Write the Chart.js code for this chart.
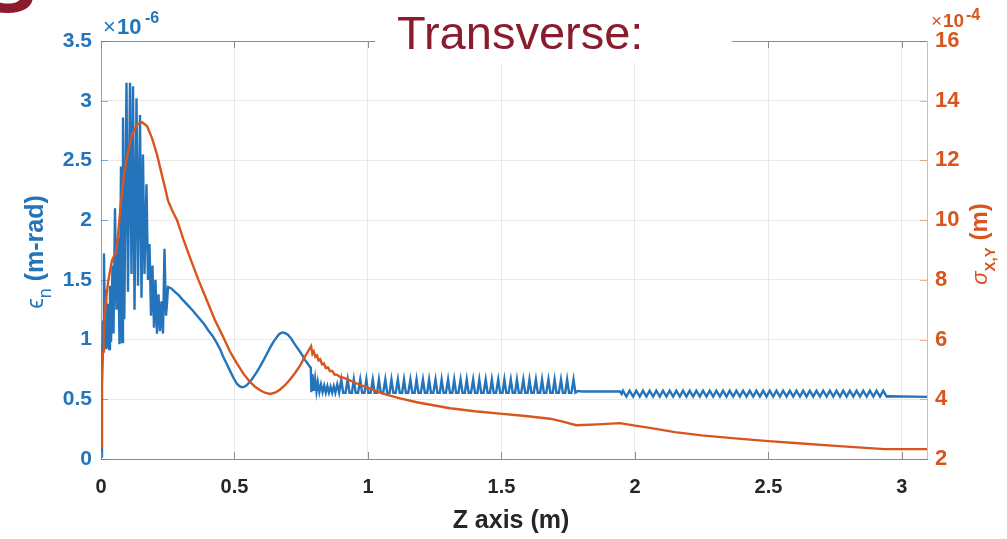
<!DOCTYPE html>
<html>
<head>
<meta charset="utf-8">
<script src="https://cdn.jsdelivr.net/npm/chart.js@4.4.1/dist/chart.umd.min.js"></script>
<style>
  html, body { margin: 0; padding: 0; background: #fff; overflow: hidden; }
  #wrap { width: 1007px; height: 539px; position: relative; }
</style>
</head>
<body>
<div id="wrap"><canvas id="c" width="1007" height="539"></canvas></div>
<script>
// Normalised emittance (units of 1e-6 m-rad) along the beamline, Z in metres
const emitEntrance = [
  [0.000,0.02],[0.0037,0.75],[0.0075,1.15],[0.0112,1.72],[0.015,0.93],[0.0187,1.42],[0.0225,0.94],
  [0.0262,1.30],[0.030,0.92],[0.0337,1.45],[0.0375,0.98],[0.0431,1.62],[0.0468,1.05],[0.0524,2.10],
  [0.058,1.25],[0.0637,1.85],[0.0693,0.96],[0.0749,2.45],[0.0787,0.98],[0.0824,2.86],[0.0873,1.17],
  [0.0955,3.15],[0.1011,1.40],[0.1086,3.15],[0.1142,1.55],[0.1199,3.12],[0.1255,1.25],[0.133,3.02],
  [0.1386,1.45],[0.1461,2.88],[0.1517,1.35],[0.1573,2.55],[0.1629,1.55],[0.1704,2.30],[0.176,1.50],
  [0.1816,1.80],[0.1873,1.20],[0.1929,1.62],[0.1985,1.10],[0.2041,1.50],[0.2097,1.05],[0.2154,1.38],
  [0.221,1.07],[0.2266,1.32],[0.2322,1.05],[0.2378,1.76],[0.2434,1.20],[0.2472,1.30],[0.251,1.44]
];
const emitHump = [
  [0.262,1.43],[0.277,1.40],[0.292,1.37],[0.307,1.33],[0.324,1.29],[0.341,1.25],[0.356,1.21],
  [0.371,1.17],[0.386,1.13],[0.401,1.08],[0.418,1.03],[0.434,0.97],[0.446,0.92],[0.457,0.86],
  [0.470,0.80],[0.483,0.74],[0.496,0.68],[0.509,0.63],[0.519,0.61],[0.528,0.60],[0.538,0.605],
  [0.547,0.62],[0.556,0.645],[0.566,0.67],[0.575,0.70],[0.584,0.73],[0.596,0.775],[0.607,0.82],
  [0.620,0.875],[0.633,0.93],[0.644,0.975],[0.655,1.01],[0.667,1.045],[0.678,1.06],[0.689,1.055],
  [0.700,1.04],[0.712,1.01],[0.723,0.97],[0.734,0.935],[0.745,0.90],[0.755,0.865],[0.764,0.83],
  [0.774,0.80],[0.783,0.77],[0.786,0.76]
];
// short decaying oscillation after the kick at Z ~ 0.79 m
const emitSettle = [
  [0.788,0.56],[0.792,0.71],[0.797,0.57],[0.802,0.67],[0.807,0.565],[0.812,0.645],[0.818,0.56],
  [0.824,0.625],[0.830,0.56],[0.836,0.615],[0.842,0.555],[0.848,0.61],[0.854,0.555],[0.860,0.605],
  [0.866,0.555],[0.872,0.61],[0.878,0.555],[0.885,0.625],[0.892,0.555]
];
// periodic cusps through the focusing lattice (peak, trough start, trough end)
const emitTeeth = [
  [0.900,0.665],[0.907,0.555],[0.916,0.555], [0.924,0.665],[0.931,0.555],[0.940,0.555],
  [0.947,0.665],[0.954,0.555],[0.963,0.555], [0.971,0.665],[0.978,0.555],[0.987,0.555],
  [0.994,0.665],[1.001,0.555],[1.010,0.555], [1.018,0.665],[1.025,0.555],[1.034,0.555],
  [1.041,0.665],[1.048,0.555],[1.057,0.555], [1.065,0.665],[1.072,0.555],[1.081,0.555],
  [1.088,0.665],[1.095,0.555],[1.104,0.555], [1.112,0.665],[1.119,0.555],[1.128,0.555],
  [1.135,0.665],[1.142,0.555],[1.151,0.555], [1.159,0.665],[1.166,0.555],[1.175,0.555],
  [1.182,0.665],[1.189,0.555],[1.198,0.555], [1.206,0.665],[1.213,0.555],[1.222,0.555],
  [1.229,0.665],[1.236,0.555],[1.245,0.555], [1.253,0.665],[1.260,0.555],[1.269,0.555],
  [1.276,0.665],[1.283,0.555],[1.292,0.555], [1.300,0.665],[1.307,0.555],[1.316,0.555],
  [1.323,0.665],[1.330,0.555],[1.339,0.555], [1.347,0.665],[1.354,0.555],[1.363,0.555],
  [1.370,0.665],[1.377,0.555],[1.386,0.555], [1.394,0.665],[1.401,0.555],[1.410,0.555],
  [1.417,0.665],[1.424,0.555],[1.433,0.555], [1.441,0.665],[1.448,0.555],[1.457,0.555],
  [1.464,0.665],[1.471,0.555],[1.480,0.555], [1.488,0.665],[1.495,0.555],[1.504,0.555],
  [1.511,0.665],[1.518,0.555],[1.527,0.555], [1.535,0.665],[1.542,0.555],[1.551,0.555],
  [1.558,0.665],[1.565,0.555],[1.574,0.555], [1.582,0.665],[1.589,0.555],[1.598,0.555],
  [1.605,0.665],[1.612,0.555],[1.621,0.555], [1.629,0.665],[1.636,0.555],[1.645,0.555],
  [1.652,0.665],[1.659,0.555],[1.668,0.555], [1.676,0.665],[1.683,0.555],[1.692,0.555],
  [1.699,0.665],[1.706,0.555],[1.715,0.555], [1.723,0.665],[1.730,0.555],[1.739,0.555],
  [1.746,0.665],[1.753,0.555],[1.762,0.555], [1.770,0.665],[1.777,0.555],[1.782,0.56]
];
const emitPlateau = [[1.786,0.57],[1.800,0.565],[1.944,0.565],[1.950,0.545]];
const emitRipple = [
  [1.955,0.572],[1.968,0.522],[1.980,0.572],[1.993,0.522],[2.005,0.572],[2.018,0.522],[2.030,0.572],
  [2.043,0.522],[2.055,0.572],[2.068,0.522],[2.080,0.572],[2.093,0.522],[2.105,0.572],[2.118,0.522],
  [2.130,0.572],[2.143,0.522],[2.155,0.572],[2.168,0.522],[2.180,0.572],[2.193,0.522],[2.205,0.572],
  [2.218,0.522],[2.230,0.572],[2.243,0.522],[2.255,0.572],[2.268,0.522],[2.280,0.572],[2.293,0.522],
  [2.305,0.572],[2.318,0.522],[2.330,0.572],[2.343,0.522],[2.355,0.572],[2.368,0.522],[2.380,0.572],
  [2.393,0.522],[2.405,0.572],[2.418,0.522],[2.430,0.572],[2.443,0.522],[2.455,0.572],[2.468,0.522],
  [2.480,0.572],[2.493,0.522],[2.505,0.572],[2.518,0.522],[2.530,0.572],[2.543,0.522],[2.555,0.572],
  [2.568,0.522],[2.580,0.572],[2.593,0.522],[2.605,0.572],[2.618,0.522],[2.630,0.572],[2.643,0.522],
  [2.655,0.572],[2.668,0.522],[2.680,0.572],[2.693,0.522],[2.705,0.572],[2.718,0.522],[2.730,0.572],
  [2.743,0.522],[2.755,0.572],[2.768,0.522],[2.780,0.572],[2.793,0.522],[2.805,0.572],[2.818,0.522],
  [2.830,0.572],[2.843,0.522],[2.855,0.572],[2.868,0.522],[2.880,0.572],[2.893,0.522],[2.905,0.572],
  [2.918,0.522],[2.930,0.572],[2.943,0.522]
];
const emitTail = [[2.950,0.525],[3.094,0.52]];

// Transverse rms beam size (units of 1e-4 m) along Z
const sigmaRise = [
  [0.000,2.40],[0.0019,3.5],[0.0037,4.4],[0.0075,5.6],[0.0112,6.4],[0.0187,7.35],[0.0262,7.9],
  [0.0337,8.3],[0.0412,8.65],[0.0487,8.8],[0.0562,8.9],[0.0637,9.5],[0.0749,10.6],[0.0861,11.5],
  [0.1011,12.3],[0.1161,12.85],[0.1348,13.2],[0.1536,13.28],[0.1723,13.15],[0.191,12.75],
  [0.2097,12.2],[0.2285,11.5],[0.2434,10.95]
];
const sigmaWaist = [
  [0.251,10.65],[0.268,10.3],[0.285,10.0],[0.309,9.35],[0.333,8.75],[0.365,8.0],[0.397,7.3],
  [0.427,6.65],[0.457,6.1],[0.483,5.6],[0.509,5.2],[0.534,4.85],[0.558,4.58],[0.577,4.42],
  [0.596,4.3],[0.614,4.22],[0.633,4.18],[0.652,4.22],[0.670,4.32],[0.689,4.47],[0.708,4.66],
  [0.727,4.88],[0.745,5.12],[0.760,5.37],[0.772,5.55],[0.787,5.78]
];
const sigmaDecay = [
  [0.792,5.52],[0.797,5.6],[0.803,5.42],[0.809,5.47],[0.815,5.3],[0.821,5.34],[0.828,5.17],
  [0.835,5.2],[0.842,5.05],[0.850,5.07],[0.858,4.94],[0.866,4.95],[0.875,4.83],[0.885,4.82],
  [0.895,4.74],[0.905,4.73],[0.930,4.64],[0.960,4.52],[1.000,4.38],[1.056,4.19],[1.120,4.03],
  [1.183,3.90],[1.245,3.80],[1.307,3.70],[1.400,3.60],[1.494,3.52],[1.590,3.44],[1.682,3.35],
  [1.730,3.25],[1.780,3.13],[1.860,3.16],[1.944,3.20],[2.000,3.12],[2.050,3.05],[2.150,2.90],
  [2.250,2.79],[2.375,2.69],[2.500,2.60],[2.625,2.52],[2.750,2.44],[2.850,2.38],[2.935,2.33],
  [3.094,2.33]
];

// Axis ticks
const xTicks = [0, 0.5, 1, 1.5, 2, 2.5, 3];
const emitTicks = [0, 0.5, 1, 1.5, 2, 2.5, 3, 3.5];
const sigmaTicks = [2, 4, 6, 8, 10, 12, 14, 16];

const BLUE = '#2474BB';
const ORANGE = '#D9551E';
const BLUE_FRAME = 'rgba(36,116,187,0.55)';
const ORANGE_FRAME = 'rgba(217,85,30,0.45)';
const FRAME = '#8c8c8c';
const GRID = '#e9e9e9';
const DARK = '#262626';
const TITLE_RED = '#8B1C2E';
const SANS = '"Liberation Sans", Arial, Helvetica, sans-serif';

const toPoints = segs => segs.flat().map(([x, y]) => ({ x, y }));
const emitPoints = toPoints([emitEntrance, emitHump, emitSettle, emitTeeth, emitPlateau, emitRipple, emitTail]);
const sigmaPoints = toPoints([sigmaRise, sigmaWaist, sigmaDecay]);

// Frame details, inward ticks, exponents, titles
const decor = {
  id: 'decor',
  afterDraw(chart) {
    const { ctx, chartArea: a, scales } = chart;
    const seg = (x1, y1, x2, y2) => { ctx.beginPath(); ctx.moveTo(x1, y1); ctx.lineTo(x2, y2); ctx.stroke(); };
    ctx.save();
    ctx.lineWidth = 1;

    ctx.strokeStyle = FRAME;
    seg(a.left, a.top + 0.5, a.right, a.top + 0.5);
    xTicks.forEach(v => {
      const px = Math.round(scales.x.getPixelForValue(v)) + 0.5;
      seg(px, a.bottom, px, a.bottom - 7);
      seg(px, a.top, px, a.top + 7);
    });
    ctx.strokeStyle = BLUE_FRAME;
    emitTicks.forEach(v => {
      const py = Math.round(scales.yEmit.getPixelForValue(v)) + 0.5;
      seg(a.left, py, a.left + 7, py);
    });
    ctx.strokeStyle = ORANGE_FRAME;
    sigmaTicks.forEach(v => {
      const py = Math.round(scales.ySigma.getPixelForValue(v)) + 0.5;
      seg(a.right, py, a.right - 7, py);
    });

    // heading over the top edge
    ctx.fillStyle = '#fff';
    ctx.fillRect(375, 0, 357, 63);
    ctx.fillStyle = TITLE_RED;
    ctx.textBaseline = 'alphabetic';
    ctx.textAlign = 'left';
    ctx.font = '47px ' + SANS;
    ctx.fillText('Transverse:', 397, 49);
    ctx.font = 'bold 88px ' + SANS;
    ctx.fillText('S', -22, 12);

    // exponent markers
    const put = (txt, font, x, y) => { ctx.font = font; ctx.fillText(txt, x, y); };
    ctx.fillStyle = BLUE;
    put('\u00d7', '22px ' + SANS, 103, 34);
    put('10', 'bold 22px ' + SANS, 117, 34);
    put('-6', 'bold 16px ' + SANS, 145, 23);
    ctx.fillStyle = ORANGE;
    put('\u00d7', '19px ' + SANS, 931, 27);
    put('10', 'bold 19px ' + SANS, 943, 27);
    put('-4', 'bold 16px ' + SANS, 966, 20);

    // rotated axis titles with subscripts
    const vertical = (parts, baseX, centerY) => {
      let total = 0;
      parts.forEach(p => { ctx.font = p[1]; total += ctx.measureText(p[0]).width; });
      ctx.save();
      ctx.translate(baseX, centerY + total / 2);
      ctx.rotate(-Math.PI / 2);
      let x = 0;
      parts.forEach(([txt, font, dy]) => { ctx.font = font; ctx.fillText(txt, x, dy); x += ctx.measureText(txt).width; });
      ctx.restore();
    };
    ctx.fillStyle = BLUE;
    vertical([['\u03f5', '24px ' + SANS, 0], ['n', '18px ' + SANS, 8], [' (m-rad)', 'bold 25px ' + SANS, 0]], 43, 252);
    ctx.fillStyle = ORANGE;
    vertical([['\u03c3', 'italic 22px ' + SANS, 0], ['X,Y', 'bold 15px ' + SANS, 8], [' (m)', 'bold 24px ' + SANS, 0]], 987, 244);

    ctx.fillStyle = DARK;
    ctx.textAlign = 'center';
    ctx.font = 'bold 25px ' + SANS;
    ctx.fillText('Z axis (m)', 511, 528);
    ctx.restore();
  }
};

const tickFont = size => ({ family: SANS, size, weight: 'bold' });

new Chart(document.getElementById('c'), {
  type: 'line',
  data: {
    datasets: [
      { label: '\u03c3X,Y', data: sigmaPoints, yAxisID: 'ySigma', borderColor: ORANGE, borderWidth: 2.4,
        pointRadius: 0, tension: 0, order: 0 },
      { label: '\u03f5n', data: emitPoints, yAxisID: 'yEmit', borderColor: BLUE, borderWidth: 2.4,
        pointRadius: 0, tension: 0, order: 1 }
    ]
  },
  options: {
    responsive: false,
    animation: false,
    devicePixelRatio: 1,
    layout: { padding: { top: 41, left: 0, right: 0, bottom: 0 } },
    plugins: { legend: { display: false }, tooltip: { enabled: false }, title: { display: false } },
    scales: {
      x: {
        type: 'linear', min: 0, max: 3.094,
        afterBuildTicks: s => { s.ticks = xTicks.map(value => ({ value })); },
        afterFit: s => { s.height = 80; },
        grid: { color: GRID, drawTicks: false },
        border: { color: FRAME },
        ticks: { color: DARK, font: tickFont(20), padding: 16, maxRotation: 0, autoSkip: false,
                 callback: v => String(v) }
      },
      yEmit: {
        type: 'linear', position: 'left', min: 0, max: 3.5,
        afterBuildTicks: s => { s.ticks = emitTicks.map(value => ({ value })); },
        afterFit: s => { s.width = 101; },
        grid: { color: GRID, drawTicks: false },
        border: { color: BLUE_FRAME },
        ticks: { color: BLUE, font: tickFont(21), padding: 9, callback: v => String(v) }
      },
      ySigma: {
        type: 'linear', position: 'right', min: 2, max: 16,
        afterBuildTicks: s => { s.ticks = sigmaTicks.map(value => ({ value })); },
        afterFit: s => { s.width = 80; },
        grid: { drawOnChartArea: false, drawTicks: false },
        border: { color: ORANGE_FRAME },
        ticks: { color: ORANGE, font: tickFont(22), padding: 8, callback: v => String(v) }
      }
    }
  },
  plugins: [decor]
});
</script>
</body>
</html>
